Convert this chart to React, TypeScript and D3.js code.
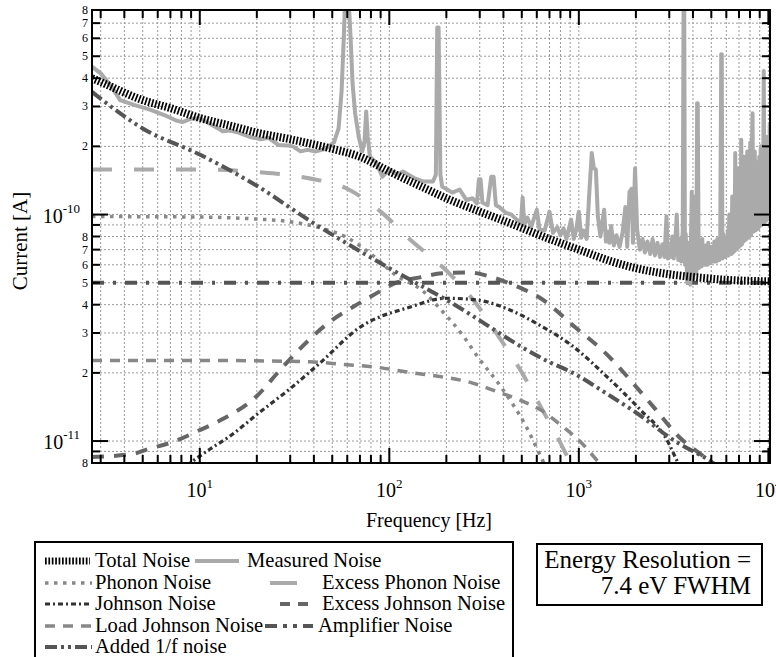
import React from 'react';
import * as d3 from 'd3';

// ---------------- data (frequency [Hz], current [A]) ----------------
const xDomain: [number, number] = [2.7, 10200];
const yDomain: [number, number] = [8e-12, 8e-10];

const totalNoise: [number, number][] = [
  [2.7, 4.0e-10], [3, 3.85e-10], [5, 3.2e-10], [7, 2.95e-10], [10, 2.67e-10], [15, 2.45e-10],
  [20, 2.3e-10], [30, 2.15e-10], [50, 1.95e-10], [70, 1.8e-10], [100, 1.55e-10], [150, 1.32e-10],
  [200, 1.18e-10], [300, 1.03e-10], [400, 9.4e-11], [700, 7.8e-11], [1000, 7.0e-11], [1500, 6.2e-11],
  [2000, 5.8e-11], [3000, 5.45e-11], [4000, 5.3e-11], [6000, 5.15e-11], [10500, 5.07e-11],
];

const measuredNoise: [number, number][] = [
  [2.7, 4.5e-10], [3.0, 4.2e-10], [3.4, 3.7e-10], [3.8, 3.2e-10], [4.5, 3.05e-10], [5.5, 2.9e-10],
  [6.5, 2.75e-10], [7.5, 2.6e-10], [8.1, 2.56e-10], [9, 2.65e-10], [10, 2.66e-10], [11, 2.55e-10],
  [12.5, 2.4e-10], [13.2, 2.33e-10], [14.5, 2.35e-10], [16, 2.3e-10], [18.4, 2.2e-10], [21, 2.15e-10],
  [23, 2.18e-10], [26, 2.03e-10], [29, 2.02e-10], [31, 2.0e-10], [34, 1.9e-10], [37, 1.93e-10],
  [41, 1.9e-10], [46, 1.95e-10], [51, 2.08e-10], [54, 2.4e-10], [56, 3.5e-10], [57.5, 6e-10],
  [58.5, 9e-10], [61, 9e-10], [62.5, 6e-10], [64, 3.8e-10], [66, 2.8e-10], [69, 2.2e-10],
  [72, 1.9e-10], [74, 2.1e-10], [75.5, 2.85e-10], [77, 2.2e-10], [79, 1.8e-10], [85, 1.7e-10],
  [92, 1.47e-10], [100, 1.58e-10], [110, 1.5e-10], [118, 1.55e-10], [135, 1.45e-10], [150, 1.4e-10],
  [170, 1.4e-10], [176, 1.5e-10], [179, 6.7e-10], [182, 6.7e-10], [186, 1.5e-10], [190, 1.33e-10],
  [215, 1.25e-10], [235, 1.29e-10], [255, 1.16e-10], [275, 1.18e-10], [290, 1.12e-10], [297, 1.43e-10],
  [303, 1.43e-10], [310, 1.13e-10], [330, 1.1e-10], [345, 1.47e-10], [355, 1.47e-10], [365, 1.1e-10],
  [380, 1.08e-10], [410, 1.02e-10], [440, 1.0e-10], [470, 9.5e-11], [495, 9.2e-11], [505, 1.19e-10],
  [515, 9e-11], [535, 9.7e-11], [560, 8.8e-11], [600, 1.05e-10], [620, 8.6e-11], [660, 8.5e-11],
  [700, 1.03e-10], [730, 8.3e-11], [770, 8.8e-11], [800, 8.1e-11], [830, 8.7e-11], [860, 7.8e-11],
  [910, 9.5e-11], [940, 7.8e-11], [970, 8.6e-11], [1000, 1.03e-10], [1030, 7.9e-11], [1060, 8.5e-11],
  [1100, 7.8e-11], [1130, 1.16e-10], [1170, 1.87e-10], [1200, 1.6e-10], [1230, 1.58e-10],
  [1260, 9.8e-11], [1300, 8e-11], [1360, 1.05e-10], [1390, 7.6e-11], [1420, 8.4e-11], [1450, 7.5e-11],
  [1480, 8.9e-11], [1530, 7.3e-11], [1580, 8.1e-11], [1640, 7.2e-11], [1700, 8.3e-11], [1760, 1.08e-10],
  [1800, 7.2e-11], [1850, 1.26e-10], [1900, 1.3e-10], [1930, 7.5e-11], [1980, 1.6e-10],
  [2030, 8.6e-11], [2100, 7.0e-11], [2170, 7.8e-11], [2230, 6.8e-11], [2300, 7.6e-11], [2380, 6.7e-11],
  [2450, 7.8e-11], [2520, 6.6e-11], [2600, 7.5e-11], [2680, 6.5e-11], [2760, 7.4e-11], [2830, 6.5e-11],
  [2900, 9.8e-11], [2950, 6.4e-11],
  [3000, 7.2e-11], [3055, 6.5e-11], [3111, 8.0e-11], [3168, 6.4e-11], [3226, 7.5e-11], [3286, 1.0e-10],
  [3346, 6.3e-11], [3408, 7.8e-11], [3470, 6.2e-11], [3534, 8.5e-11], [3570, 8.5e-10], [3599, 8.5e-10],
  [3630, 6.0e-11], [3665, 8.2e-11], [3733, 5.0e-11], [3801, 7.5e-11], [3871, 4.9e-11], [3942, 1.26e-10],
  [4015, 5.2e-11], [4089, 1.2e-10], [4164, 5.5e-11], [4210, 3.1e-10], [4240, 3.1e-10], [4290, 5.8e-11],
  [4318, 7.6e-11], [4358, 5.9e-11], [4398, 7.2e-11], [4440, 5.9e-11], [4479, 7.8e-11], [4520, 6.0e-11],
  [4561, 7.0e-11], [4600, 6.0e-11], [4645, 7.3e-11], [4690, 6.0e-11], [4730, 7.0e-11], [4770, 6.0e-11],
  [4817, 7.5e-11], [4860, 6.1e-11], [4906, 7.0e-11], [4950, 6.1e-11], [4996, 7.2e-11], [5040, 6.2e-11],
  [5088, 7.0e-11], [5130, 6.2e-11], [5181, 7.6e-11], [5230, 6.2e-11], [5277, 7.2e-11], [5320, 6.2e-11],
  [5374, 7.8e-11], [5420, 6.3e-11], [5473, 7.4e-11], [5520, 6.3e-11], [5573, 8.0e-11], [5640, 5.1e-10],
  [5676, 5.1e-10], [5720, 6.4e-11], [5780, 8.2e-11], [5830, 6.5e-11], [5887, 7.6e-11], [5940, 6.5e-11],
  [5995, 7.8e-11], [6050, 6.6e-11], [6105, 8.5e-11], [6160, 6.6e-11], [6217, 1.0e-10], [6270, 6.7e-11],
  [6332, 9.5e-11], [6390, 6.7e-11], [6448, 1.2e-10], [6510, 6.8e-11], [6567, 1.1e-10], [6630, 6.9e-11],
  [6687, 1.87e-10], [6750, 7.0e-11], [6810, 1.5e-10], [6870, 7.1e-11], [6936, 1.6e-10], [7000, 7.2e-11],
  [7063, 1.5e-10], [7130, 7.3e-11], [7193, 2.14e-10], [7260, 7.4e-11], [7325, 1.7e-10], [7390, 7.6e-11],
  [7460, 1.8e-10], [7530, 7.7e-11], [7597, 1.6e-10], [7670, 7.8e-11], [7737, 1.9e-10], [7810, 7.9e-11],
  [7879, 1.7e-10], [7950, 8.0e-11], [8024, 2.08e-10], [8100, 8.1e-11], [8172, 1.8e-10], [8250, 2.8e-10],
  [8322, 8.4e-11], [8400, 1.7e-10], [8475, 1.9e-10], [8550, 8.5e-11], [8631, 1.7e-10], [8710, 8.6e-11],
  [8790, 1.65e-10], [8870, 8.7e-11], [8952, 1.8e-10], [9030, 8.9e-11], [9116, 2.0e-10], [9200, 9.0e-11],
  [9284, 1.8e-10], [9370, 9.1e-11], [9455, 4.3e-10], [9540, 9.2e-11], [9629, 2.0e-10], [9720, 9.4e-11],
  [9806, 2.2e-10], [9900, 9.5e-11], [9986, 2.0e-10], [10080, 9.7e-11], [10170, 2.5e-10], [10357, 1.0e-10],
];

const phononNoise: [number, number][] = [
  [2.7, 9.8e-11], [10, 9.75e-11], [20, 9.55e-11], [30, 9.3e-11], [42.8, 8.75e-11], [60, 7.9e-11],
  [80, 6.7e-11], [108, 5.4e-11], [150, 4.6e-11], [190, 3.75e-11], [250, 2.85e-11], [288, 2.4e-11],
  [395, 1.7e-11], [527, 1.16e-11], [640, 8.3e-12], [720, 6.8e-12],
];

const excessPhononNoise: [number, number][] = [
  [2.7, 1.58e-10], [10, 1.58e-10], [20, 1.54e-10], [37, 1.45e-10], [60, 1.3e-10], [90, 1.03e-10],
  [130, 7.7e-11], [200, 5.66e-11], [290, 4.0e-11], [380, 2.87e-11], [500, 2.01e-11], [640, 1.38e-11],
  [790, 1.0e-11], [900, 8e-12], [1000, 6.5e-12],
];

const johnsonNoise: [number, number][] = [
  [6, 6e-12], [8.9, 8e-12], [11.3, 9.2e-12], [14.4, 1.05e-11], [20.7, 1.34e-11], [29.9, 1.7e-11],
  [42.8, 2.2e-11], [70, 3.18e-11], [128, 3.9e-11], [200, 4.27e-11], [288, 4.2e-11], [430, 3.8e-11],
  [640, 3.2e-11], [930, 2.62e-11], [1400, 1.93e-11], [2100, 1.38e-11], [2900, 1.02e-11], [3350, 8e-12],
  [4000, 6.5e-12],
];

const excessJohnsonNoise: [number, number][] = [
  [2.7, 8.5e-12], [4.5, 8.8e-12], [5.3, 9.2e-12], [7.2, 9.9e-12], [9.6, 1.1e-11], [13.2, 1.25e-11],
  [20, 1.58e-11], [26.4, 2.05e-11], [36.6, 2.73e-11], [48, 3.34e-11], [64, 3.9e-11], [82, 4.4e-11],
  [109, 5.0e-11], [145, 5.28e-11], [190, 5.5e-11], [265, 5.55e-11], [350, 5.28e-11], [470, 4.82e-11],
  [620, 4.3e-11], [960, 3.17e-11], [1400, 2.42e-11], [1990, 1.75e-11], [2450, 1.43e-11], [3350, 1.05e-11],
  [4900, 8.1e-12], [6000, 6.8e-12],
];

const loadJohnsonNoise: [number, number][] = [
  [2.7, 2.27e-11], [10, 2.27e-11], [20, 2.26e-11], [38, 2.24e-11], [57, 2.18e-11], [85, 2.12e-11],
  [128, 2.01e-11], [190, 1.92e-11], [265, 1.82e-11], [365, 1.66e-11], [505, 1.5e-11], [640, 1.36e-11],
  [800, 1.18e-11], [1010, 1.0e-11], [1280, 8.0e-12], [1500, 6.8e-12],
];

const amplifierNoise: [number, number][] = [
  [2.7, 5.0e-11], [10500, 5.0e-11],
];

const addedOneOverFNoise: [number, number][] = [
  [2.7, 3.48e-10], [5, 2.4e-10], [10, 1.84e-10], [20, 1.34e-10], [38, 9.4e-11], [100, 5.8e-11],
  [200, 4.2e-11], [700, 2.23e-11], [930, 2.0e-11], [1400, 1.62e-11], [2100, 1.3e-11], [3100, 1.02e-11],
  [4900, 8.2e-12], [6000, 7.3e-12],
];

const xMajorExponents = ['1', '2', '3', '4'];
const yMajorExponents = ['-10', '-11'];
const legendLabels = [
  'Total Noise', 'Measured Noise', 'Phonon Noise', 'Excess Phonon Noise', 'Johnson Noise',
  'Excess Johnson Noise', 'Load Johnson Noise', 'Amplifier Noise', 'Added 1/f noise',
];

// ---------------- styles ----------------
const FONT = 'Liberation Serif, DejaVu Serif, serif';
type Style = { color: string; width: number; dash?: string; smooth?: boolean };
const styles: Record<string, Style> = {
  total: { color: '#000', width: 8, dash: '1.7,1.7', smooth: true },
  measured: { color: '#aaaaaa', width: 4 },
  phonon: { color: '#888888', width: 3.5, dash: '3.5,5.5', smooth: true },
  excessPhonon: { color: '#aaaaaa', width: 4, dash: '20,22', smooth: true },
  johnson: { color: '#333333', width: 3.2, dash: '5,3,2,3', smooth: true },
  excessJohnson: { color: '#666666', width: 4, dash: '12,10', smooth: true },
  loadJohnson: { color: '#888888', width: 3.5, dash: '10,8', smooth: true },
  amplifier: { color: '#555555', width: 4, dash: '12,9,3,9', smooth: true },
  oneOverF: { color: '#555555', width: 4, dash: '12,4,3,4,3,4', smooth: true },
};

export default function App() {
  const L = 92, R = 770, T = 10, B = 463;
  const x = d3.scaleLog().domain(xDomain).range([L, R]);
  const y = d3.scaleLog().domain(yDomain).range([B, T]);

  const isMajor = (t: number) => Math.abs(Math.log10(t) - Math.round(Math.log10(t))) < 1e-6;
  const xTicks = x.ticks().filter((t) => t >= xDomain[0] && t <= xDomain[1]);
  const yTicks = y.ticks().filter((t) => t >= yDomain[0] * 0.999 && t <= yDomain[1] * 1.001);

  const mk = (st: Style) =>
    d3.line<[number, number]>()
      .x((d) => x(d[0]))
      .y((d) => y(d[1]))
      .curve(st.smooth ? d3.curveMonotoneX : d3.curveLinear);

  const series: { key: string; data: [number, number][] }[] = [
    { key: 'phonon', data: phononNoise },
    { key: 'excessPhonon', data: excessPhononNoise },
    { key: 'johnson', data: johnsonNoise },
    { key: 'excessJohnson', data: excessJohnsonNoise },
    { key: 'loadJohnson', data: loadJohnsonNoise },
    { key: 'amplifier', data: amplifierNoise },
    { key: 'oneOverF', data: addedOneOverFNoise },
    { key: 'measured', data: measuredNoise },
    { key: 'total', data: totalNoise },
  ];

  const legendItems: { key: string; label: string; x1: number; x2: number; row: number; tx: number; dash?: string }[] = [
    { key: 'total', label: legendLabels[0], x1: 45, x2: 90, row: 0, tx: 95 },
    { key: 'measured', label: legendLabels[1], x1: 195, x2: 239, row: 0, tx: 247 },
    { key: 'phonon', label: legendLabels[2], x1: 45, x2: 92, row: 1, tx: 95 },
    { key: 'excessPhonon', label: legendLabels[3], x1: 270, x2: 297, row: 1, tx: 322, dash: 'none' },
    { key: 'johnson', label: legendLabels[4], x1: 45, x2: 92, row: 2, tx: 95 },
    { key: 'excessJohnson', label: legendLabels[5], x1: 280, x2: 308, row: 2, tx: 322, dash: '10,8' },
    { key: 'loadJohnson', label: legendLabels[6], x1: 45, x2: 92, row: 3, tx: 95 },
    { key: 'amplifier', label: legendLabels[7], x1: 265, x2: 313, row: 3, tx: 318, dash: '12,6,4,6,4,6' },
    { key: 'oneOverF', label: legendLabels[8], x1: 45, x2: 92, row: 4, tx: 95 },
  ];
  const rowY = [561, 583, 604, 626, 647];
  const tStyle = { fontFamily: FONT };

  return (
    <svg
      width={776}
      height={657}
      viewBox="0 0 776 657"
      style={{ position: 'absolute', left: 0, top: 0, background: '#fff', fontFamily: FONT }}
    >
      <defs>
        <clipPath id="plotClip">
          <rect x={L} y={T} width={R - L} height={B - T} />
        </clipPath>
      </defs>
      <rect x={0} y={0} width={776} height={657} fill="#fff" />

      {/* grid */}
      <g stroke="#9a9a9a" strokeWidth={1} strokeDasharray="2,2">
        {xTicks.map((t, i) => (
          <line key={'gx' + i} x1={x(t)} x2={x(t)} y1={T} y2={B} />
        ))}
        {yTicks.map((t, i) => (
          <line key={'gy' + i} x1={L} x2={R} y1={y(t)} y2={y(t)} />
        ))}
      </g>

      {/* curves */}
      <g clipPath="url(#plotClip)" fill="none">
        {series.map((s) => {
          const st = styles[s.key];
          return (
            <path
              key={s.key}
              d={mk(st)(s.data) || ''}
              stroke={st.color}
              strokeWidth={st.width}
              strokeDasharray={st.dash}
              strokeLinejoin="round"
              strokeLinecap="butt"
            />
          );
        })}
      </g>

      {/* ticks */}
      <g stroke="#000" strokeWidth={2}>
        {xTicks.map((t, i) => {
          const len = isMajor(t) ? 15 : 8;
          return (
            <g key={'tx' + i}>
              <line x1={x(t)} x2={x(t)} y1={B} y2={B - len} />
              <line x1={x(t)} x2={x(t)} y1={T} y2={T + len} />
            </g>
          );
        })}
        {yTicks.map((t, i) => {
          const len = isMajor(t) ? 16 : 8;
          return (
            <g key={'ty' + i}>
              <line x1={L} x2={L + len} y1={y(t)} y2={y(t)} />
              <line x1={R} x2={R - len} y1={y(t)} y2={y(t)} />
            </g>
          );
        })}
      </g>

      {/* frame */}
      <rect x={L} y={T} width={R - L} height={B - T} fill="none" stroke="#000" strokeWidth={2} />

      {/* x tick labels */}
      {xTicks.filter(isMajor).map((t, i) => (
        <text key={'xl' + i} x={x(t)} y={497} textAnchor="middle" fontSize={20} fill="#000" style={tStyle}>
          10<tspan dy={-9} fontSize={13}>{xMajorExponents[i]}</tspan>
        </text>
      ))}

      {/* y tick labels */}
      {yTicks.map((t, i) => {
        if (isMajor(t)) {
          const e = Math.round(Math.log10(t));
          const idx = e === -10 ? 0 : 1;
          return (
            <text key={'yl' + i} x={80} y={y(t) + 8} textAnchor="end" fontSize={20} fill="#000" style={tStyle}>
              10<tspan dy={-10} fontSize={13}>{yMajorExponents[idx]}</tspan>
            </text>
          );
        }
        const m = Math.round(t / Math.pow(10, Math.floor(Math.log10(t) + 1e-9)));
        if (m === 9) return null;
        return (
          <text key={'yl' + i} x={88} y={y(t) + 4} textAnchor="end" fontSize={12} fill="#000" style={tStyle}>
            {m}
          </text>
        );
      })}

      {/* axis titles */}
      <text x={429} y={527} textAnchor="middle" fontSize={20} fill="#000" style={tStyle}>Frequency [Hz]</text>
      <text transform="translate(27,241) rotate(-90)" textAnchor="middle" fontSize={21} fill="#000" style={tStyle}>Current [A]</text>

      {/* legend */}
      <rect x={35} y={542} width={478} height={140} fill="#fff" stroke="#000" strokeWidth={2} />
      {legendItems.map((it) => {
        const st = styles[it.key];
        const yy = rowY[it.row];
        return (
          <g key={'lg' + it.key}>
            <line
              x1={it.x1}
              x2={it.x2}
              y1={yy}
              y2={yy}
              stroke={st.color}
              strokeWidth={it.key === 'total' ? 7 : st.width}
              strokeDasharray={it.dash === 'none' ? undefined : it.dash || st.dash}
            />
            <text x={it.tx} y={yy + 6} fontSize={20.6} fill="#000" style={tStyle}>{it.label}</text>
          </g>
        );
      })}

      {/* energy resolution box */}
      <rect x={537} y={544} width={225} height={61} fill="#fff" stroke="#000" strokeWidth={2} />
      <text x={751} y={568} textAnchor="end" fontSize={25} fill="#000" style={tStyle}>Energy Resolution =</text>
      <text x={751} y={594} textAnchor="end" fontSize={25} fill="#000" style={tStyle}>7.4 eV FWHM</text>
    </svg>
  );
}
